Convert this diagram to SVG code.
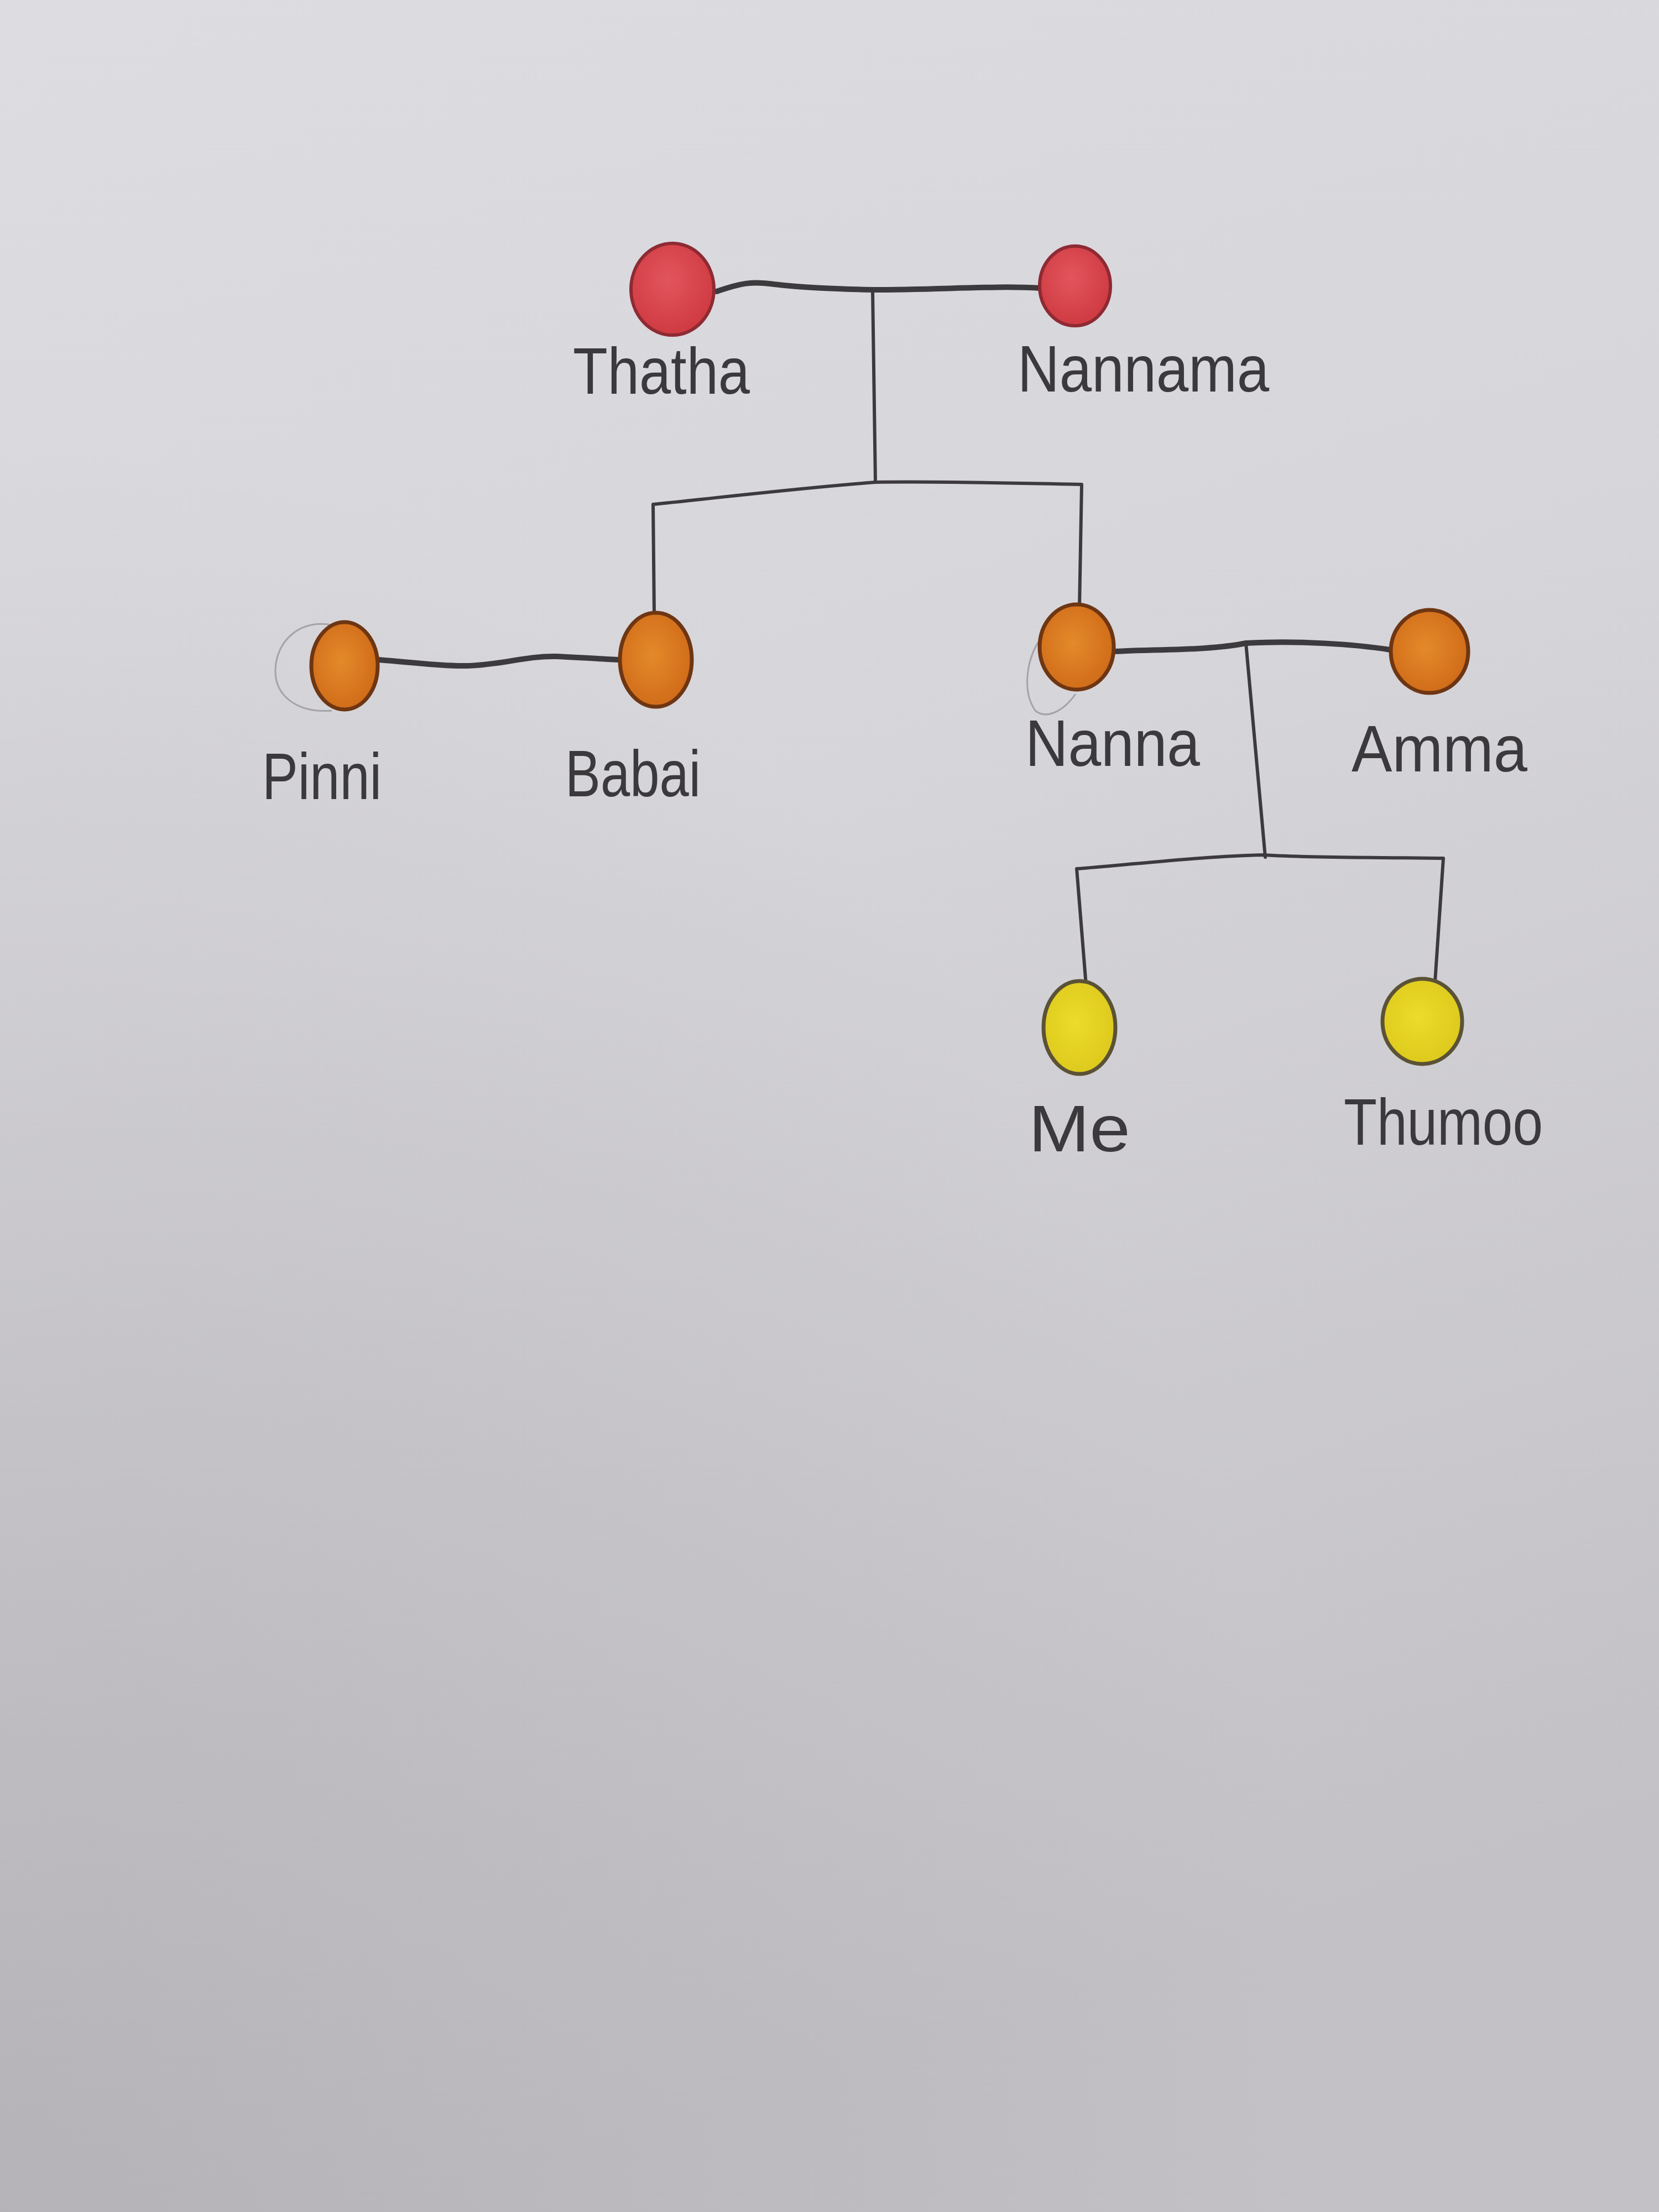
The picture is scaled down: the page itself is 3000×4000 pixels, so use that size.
<svg xmlns="http://www.w3.org/2000/svg" width="3000" height="4000" viewBox="0 0 3000 4000">
<defs>
<linearGradient id="paper" x1="0" y1="0" x2="0.25" y2="1">
<stop offset="0" stop-color="#dddce1"/>
<stop offset="0.45" stop-color="#d6d5da"/>
<stop offset="1" stop-color="#c3c1c6"/>
</linearGradient>
<radialGradient id="shade" cx="0" cy="1" r="0.8">
<stop offset="0" stop-color="#a9a6ab" stop-opacity="0.55"/>
<stop offset="1" stop-color="#a9a6ab" stop-opacity="0"/>
</radialGradient>
<radialGradient id="red" cx="0.45" cy="0.4" r="0.6">
<stop offset="0" stop-color="#e2555c"/>
<stop offset="1" stop-color="#cf3a42"/>
</radialGradient>
<radialGradient id="orange" cx="0.45" cy="0.45" r="0.6">
<stop offset="0" stop-color="#e48a2a"/>
<stop offset="1" stop-color="#cf6a18"/>
</radialGradient>
<radialGradient id="yellow" cx="0.45" cy="0.45" r="0.6">
<stop offset="0" stop-color="#ecdc2a"/>
<stop offset="1" stop-color="#dcc81c"/>
</radialGradient>
</defs>
<style>
.line{fill:none;stroke:#3d3a3d;stroke-linecap:round;stroke-linejoin:round}
.spouse{stroke-width:10}
.drop{stroke-width:6}
.r{fill:url(#red);stroke:#8e2a33;stroke-width:6}
.o{fill:url(#orange);stroke:#6e3612;stroke-width:7}
.y{fill:url(#yellow);stroke:#5b5236;stroke-width:7}
.lbl{font-family:"Liberation Sans","DejaVu Sans",sans-serif;font-size:118px;fill:#3b393b}
.ghost{fill:none;stroke:#a5a3a7;stroke-width:3}
</style>
<rect width="3000" height="4000" fill="url(#paper)"/>
<rect width="3000" height="4000" fill="url(#shade)"/>

<g id="connectors">
<path class="line spouse" d="M1296,527 C1340,512 1360,508 1400,514 C1450,520 1500,522 1578,524 C1700,524 1800,516 1882,521"/>
<path class="line drop" d="M1578,526 L1583,872"/>
<path class="line drop" d="M1183,1110 L1181,912 C1300,900 1450,882 1583,872 C1700,870 1850,874 1956,876 L1952,1097"/>
<path class="line spouse" d="M684,1193 C750,1198 800,1205 846,1204 C910,1202 950,1186 1006,1187 C1060,1189 1090,1192 1121,1193"/>
<path class="line spouse" d="M2014,1178 C2100,1174 2190,1176 2253,1163 C2350,1158 2450,1165 2514,1175"/>
<path class="line drop" d="M2253,1163 L2288,1550"/>
<path class="line drop" d="M1964,1782 L1947,1571 C2060,1562 2180,1548 2286,1546 C2380,1552 2500,1550 2610,1552 L2594,1790"/>
</g>

<g id="node-thatha">
<ellipse class="r" cx="1216" cy="523" rx="75" ry="83"/>
<text class="lbl" x="1036" y="712" textLength="320" lengthAdjust="spacingAndGlyphs">Thatha</text>
</g>
<g id="node-nannama">
<ellipse class="r" cx="1944" cy="517" rx="64" ry="72"/>
<text class="lbl" x="1840" y="708" textLength="455" lengthAdjust="spacingAndGlyphs">Nannama</text>
</g>
<g id="node-pinni">
<path class="ghost" d="M600,1130 C540,1120 500,1160 498,1210 C496,1260 540,1290 600,1285"/>
<ellipse class="o" cx="623" cy="1204" rx="60" ry="79"/>
<text class="lbl" x="474" y="1445" textLength="216" lengthAdjust="spacingAndGlyphs">Pinni</text>
</g>
<g id="node-babai">
<ellipse class="o" cx="1186" cy="1193" rx="65" ry="85"/>
<text class="lbl" x="1022" y="1440" textLength="245" lengthAdjust="spacingAndGlyphs">Babai</text>
</g>
<g id="node-nanna">
<path class="ghost" d="M1885,1150 C1855,1190 1848,1250 1872,1285 C1890,1300 1920,1290 1945,1255"/>
<ellipse class="o" cx="1947" cy="1170" rx="67" ry="77"/>
<text class="lbl" x="1854" y="1385" textLength="316" lengthAdjust="spacingAndGlyphs">Nanna</text>
</g>
<g id="node-amma">
<ellipse class="o" cx="2585" cy="1178" rx="70" ry="75"/>
<text class="lbl" x="2444" y="1395" textLength="318" lengthAdjust="spacingAndGlyphs">Amma</text>
</g>
<g id="node-me">
<ellipse class="y" cx="1952" cy="1858" rx="65" ry="84"/>
<text class="lbl" x="1860" y="2082" textLength="184" lengthAdjust="spacingAndGlyphs">Me</text>
</g>
<g id="node-thumoo">
<ellipse class="y" cx="2572" cy="1847" rx="72" ry="77"/>
<text class="lbl" x="2430" y="2070" textLength="360" lengthAdjust="spacingAndGlyphs">Thumoo</text>
</g>
</svg>
